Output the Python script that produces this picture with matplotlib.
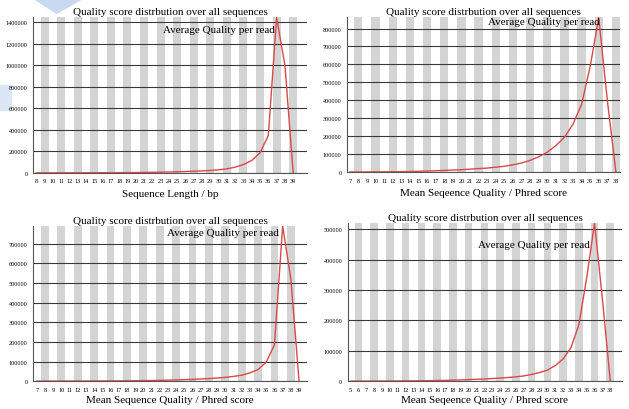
import matplotlib
matplotlib.use("Agg")
import matplotlib.pyplot as plt
from matplotlib.patches import Polygon, Rectangle

plt.rcParams['font.family'] = ['Liberation Serif', 'DejaVu Serif']

# ---------------- data ----------------
title = "Quality score distrbution over all sequences"
legend_text = "Average Quality per read"

# panel 1 (top left)
x1 = list(range(8, 40))
y1 = [100, 200, 300, 400, 500, 600, 800, 1000, 1200, 1500, 2000, 2500, 3000, 4000,
      5000, 6500, 8000, 10000, 12000, 15000, 18000, 22000, 28000, 37000, 53000,
      77000, 115000, 186000, 347000, 1440000, 1000000, 0]
ticks1 = list(range(0, 1400001, 200000))
xlabel1 = "Sequence Length / bp"

# panel 2 (top right)
x2 = list(range(7, 39))
y2 = [200, 400, 600, 900, 1200, 1600, 2200, 3000, 4000, 5500, 7000, 9000, 11000,
      13000, 16000, 19000, 22000, 27000, 32000, 40000, 50000, 65000, 85000, 110000,
      147000, 193000, 267000, 377000, 588000, 860000, 400000, 0]
ticks2 = list(range(0, 800001, 100000))
xlabel2 = "Mean Seqeence Quality / Phred score"

# panel 3 (bottom left)
x3 = list(range(7, 40))
y3 = [150, 200, 250, 300, 400, 500, 600, 700, 900, 1100, 1300, 1600, 2000, 2600,
      3200, 4000, 5000, 6000, 7500, 9000, 11000, 13000, 16000, 19000, 24000, 30000,
      42000, 59000, 97000, 186000, 790000, 520000, 0]
ticks3 = list(range(0, 700001, 100000))
xlabel3 = "Mean Sequence Quality / Phred score"

# panel 4 (bottom right)
x4 = list(range(5, 39))
y4 = [50, 100, 150, 200, 300, 400, 500, 700, 900, 1200, 1500, 2000, 2500, 3200,
      4000, 5000, 6000, 7000, 8500, 10000, 12000, 14000, 17000, 22000, 28000, 36000,
      51000, 73000, 110000, 185000, 340000, 520000, 270000, 0]
ticks4 = list(range(0, 500001, 100000))
xlabel4 = "Mean Seqeence Quality / Phred score"

panels = [
    # x, y, yticks, xlabel, stripe parity, xlim, ytop, axes rect, legend pos, labelpad
    (x1, y1, ticks1, xlabel1, 1, (7.6, 40.7), 1446000, [0.0525, 0.576, 0.436, 0.380], (0.475, 0.905), 4),
    (x2, y2, ticks2, xlabel2, 0, (6.7, 38.5), 864000, [0.552, 0.578, 0.434, 0.378], (0.515, 0.955), 4),
    (x3, y3, ticks3, xlabel3, 0, (6.55, 40.0), 790000, [0.0525, 0.068, 0.436, 0.378], (0.49, 0.94), 2.5),
    (x4, y4, ticks4, xlabel4, 0, (4.65, 39.5), 520000, [0.553, 0.068, 0.436, 0.385], (0.475, 0.85), 2.5),
]

fig = plt.figure(figsize=(6.29, 4.10), dpi=100)

# faint blue watermark shapes in the top-left corner
fig.patches.append(Polygon([[0.055, 1.0], [0.13, 1.0], [0.09, 0.965]], closed=True,
                           transform=fig.transFigure, color="#c9d9f2", zorder=-5))
fig.patches.append(Rectangle((0.0, 0.73), 0.018, 0.06, transform=fig.transFigure,
                             color="#dbe6f7", zorder=-5))

for xs, ys, yt, xl, parity, xlim, ytop, rect, lpos, lp in panels:
    ax = fig.add_axes(rect)
    ax.set_zorder(2)
    for c in xs:
        if c % 2 == parity:
            ax.axvspan(c - 0.48, c + 0.48, color="#d4d4d4", lw=0, zorder=0)
    for t in yt:
        ax.axhline(t, color="#3a3a3a", lw=0.8, zorder=1)
    ax.plot(xs, ys, color="#d9484a", lw=1.0, zorder=3)
    ax.set_xlim(*xlim)
    ax.set_ylim(0, ytop)
    ax.set_xticks(xs)
    ax.set_xticklabels([str(c) for c in xs], fontsize=4.5)
    ax.set_yticks(yt)
    ax.set_yticklabels([str(t) for t in yt], fontsize=4.5)
    ax.tick_params(length=0, pad=4)
    for s in ["top", "right"]:
        ax.spines[s].set_visible(False)
    ax.spines["left"].set_color("#555555")
    ax.spines["bottom"].set_color("#555555")
    ax.spines["left"].set_linewidth(0.8)
    ax.spines["bottom"].set_linewidth(0.8)
    ax.set_xlabel(xl, fontsize=8, labelpad=lp)
    ax.set_title(title, fontsize=8, pad=2)
    ax.text(lpos[0], lpos[1], legend_text, transform=ax.transAxes, fontsize=8, zorder=4)

fig.savefig("out.png", dpi=100)
